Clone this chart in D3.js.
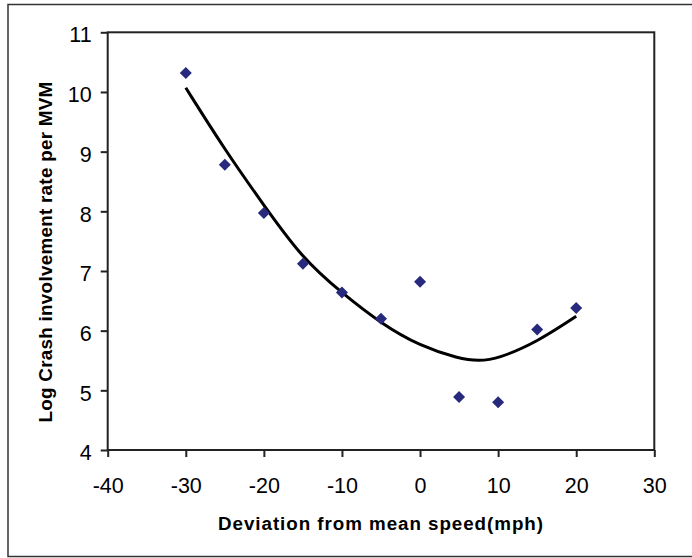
<!DOCTYPE html>
<html>
<head>
<meta charset="utf-8">
<script src="https://cdn.jsdelivr.net/npm/d3@7.9.0/dist/d3.min.js"></script>
<style>
  body { margin: 0; background: #fff; }
  svg { display: block; font-family: Arial, "Liberation Sans", sans-serif; }
</style>
</head>
<body>
<svg id="chart" width="692" height="558"></svg>
<script>
// observed points (deviation from mean speed, log crash rate)
const deviation = [-30, -25, -20, -15, -10, -5, 0, 5, 10, 15, 20];
const crashRate = [10.32, 8.78, 7.97, 7.12, 6.64, 6.20, 6.82, 4.89, 4.80, 6.02, 6.38];

// trendline
const trendX = [-30, -25, -20, -15, -10, -5, 0, 5, 7.5, 10, 15, 20];
const trendY = [10.07, 9.03, 8.10, 7.20, 6.63, 6.12, 5.74, 5.53, 5.49, 5.53, 5.81, 6.24];

const xTicks = [-40, -30, -20, -10, 0, 10, 20, 30];
const yTicks = [4, 5, 6, 7, 8, 9, 10, 11];

const svg = d3.select('#chart');

// outer chart border
svg.append('rect')
  .attr('x', 8).attr('y', 4.5)
  .attr('width', 700).attr('height', 552)
  .attr('fill', 'none')
  .attr('stroke', '#333')
  .attr('stroke-width', 1.5);

let plotL = 107.7, plotR = 654.3, plotT = 32.3, plotB = 450;

let x = d3.scaleLinear().domain([-40, 30]).range([plotL, plotR]);
let y = d3.scaleLinear().domain([4, 11]).range([plotB, plotT]);

// axes
let xAxis = svg.append('g')
  .attr('transform', `translate(0,${plotB})`)
  .call(d3.axisBottom(x).tickValues(xTicks).tickSize(7).tickPadding(21).tickFormat(d3.format('d')));

let yAxis = svg.append('g')
  .attr('transform', `translate(${plotL},0)`)
  .call(d3.axisLeft(y).tickValues(yTicks).tickSize(7).tickPadding(9).tickFormat(d3.format('d')));

[xAxis, yAxis].forEach((g) => {
  g.select('.domain').remove();
  g.selectAll('line').attr('stroke', '#222').attr('stroke-width', 2);
  g.selectAll('text')
    .attr('fill', '#000')
    .style('font-size', '21.5px')
    .style('font-family', 'Arial, "Liberation Sans", sans-serif');
});
xAxis.selectAll('text').text((d) => d < 0 ? '-' + Math.abs(d) : d);
yAxis.selectAll('text').attr('dy', '0.45em');

// plot frame
svg.append('rect')
  .attr('x', plotL).attr('y', plotT)
  .attr('width', plotR - plotL).attr('height', plotB - plotT)
  .attr('fill', 'none')
  .attr('stroke', '#222')
  .attr('stroke-width', 2);

// trendline
let trend = trendX.map((d, i) => [d, trendY[i]]);
svg.append('path')
  .datum(trend)
  .attr('d', d3.line().x((d) => x(d[0])).y((d) => y(d[1])).curve(d3.curveBasis))
  .attr('fill', 'none')
  .attr('stroke', '#000')
  .attr('stroke-width', 3);

// diamond markers
svg.append('g')
  .selectAll('path')
  .data(deviation.map((d, i) => [d, crashRate[i]]))
  .join('path')
  .attr('transform', (d) => `translate(${x(d[0])},${y(d[1])})`)
  .attr('d', 'M0,-6L6,0L0,6L-6,0Z')
  .attr('fill', '#272a7c');

// axis titles
svg.append('text')
  .attr('x', (plotL + plotR) / 2)
  .attr('y', 530)
  .attr('text-anchor', 'middle')
  .style('font-size', '18.8px')
  .style('font-weight', 'bold')
  .style('letter-spacing', '0.95px')
  .text('Deviation from mean speed(mph)');

svg.append('text')
  .attr('transform', 'translate(52,252) rotate(-90)')
  .attr('text-anchor', 'middle')
  .style('font-size', '18.8px')
  .style('font-weight', 'bold')
  .style('letter-spacing', '0.3px')
  .text('Log Crash involvement rate per MVM');
</script>
</body>
</html>
